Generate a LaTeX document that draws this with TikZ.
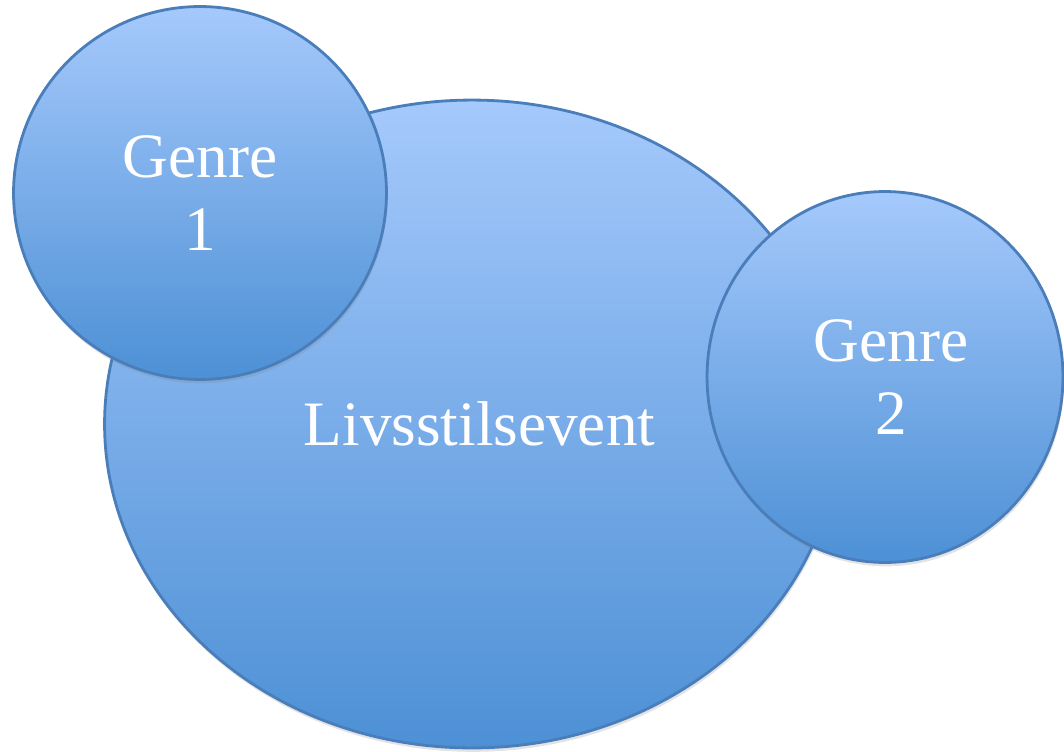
\documentclass[tikz,border=0pt]{standalone}
\usepackage{fontspec}
\setmainfont{Liberation Serif}
\usepackage{tikz}
\usetikzlibrary{shapes.geometric, shadows}
\usepackage{xcolor}

\definecolor{bubbletop}{RGB}{165,201,252}
\definecolor{bubblebottom}{RGB}{77,144,213}
\definecolor{bubbleline}{RGB}{74,126,187}

\begin{document}
\begin{tikzpicture}[x=0.02cm, y=-0.02cm,
    bubble/.style={draw=bubbleline, line width=1.6pt, inner sep=0pt,
        top color=bubbletop, bottom color=bubblebottom,
        drop shadow={opacity=0.22, shadow xshift=0.6pt, shadow yshift=-2.2pt},
        text=white, align=center, font=\fontsize{36}{41.5}\selectfont}]
    \useasboundingbox (0,0) rectangle (1064,751);

    % Ellipse for the event
    \node[bubble, ellipse, minimum width=14.7cm, minimum height=12.96cm] (Event) at (472,424) {\hspace*{0.3cm}Livsstilsevent};

    % Circle for Genre 1
    \node[bubble, circle, minimum size=7.46cm] (GenreA) at (200,193) {Genre\\1};

    % Circle for Genre 2
    \node[bubble, ellipse, minimum width=7.12cm, minimum height=7.42cm] (GenreB) at (885,377) {\hspace*{0.24cm}Genre\\\hspace*{0.24cm}2};
\end{tikzpicture}
\end{document}
